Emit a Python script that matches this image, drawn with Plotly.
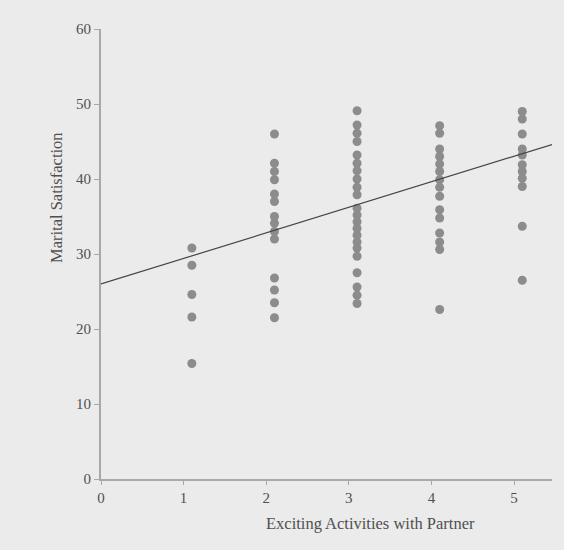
import plotly.graph_objects as go

# Exciting activities score (x positions of columns) and marital satisfaction values
col_x = [1.1, 2.1, 3.1, 4.1, 5.1]
sat_1 = [30.8, 28.5, 24.6, 21.6, 15.4]
sat_2 = [46.0, 42.1, 41.0, 39.9, 38.0, 37.0, 35.0, 34.1, 33.0, 32.0, 26.8, 25.2, 23.5, 21.5]
sat_3 = [49.1, 47.2, 46.1, 45.0, 43.2, 42.1, 41.1, 40.0, 38.9, 37.9, 36.1, 35.2, 34.3,
         33.4, 32.5, 31.6, 30.8, 29.7, 27.5, 25.6, 24.5, 23.4]
sat_4 = [47.1, 46.1, 44.0, 43.0, 42.0, 41.0, 39.9, 38.9, 37.7, 35.9, 34.8, 32.8, 31.6, 30.6, 22.6]
sat_5 = [49.0, 48.0, 46.0, 44.0, 43.2, 41.9, 41.0, 40.1, 39.0, 33.7, 26.5]

# Regression line endpoints
fit_x = [0.0, 5.46]
fit_y = [26.0, 44.6]

x_ticks = [0, 1, 2, 3, 4, 5]
y_ticks = [0, 10, 20, 30, 40, 50, 60]

groups = [sat_1, sat_2, sat_3, sat_4, sat_5]
xs, ys = [], []
for cx, vals in zip(col_x, groups):
    xs += [cx] * len(vals)
    ys += vals

bg = "#ebebeb"
serif = "Liberation Serif, Times New Roman, serif"
txt = "#505050"

fig = go.Figure()
fig.add_trace(go.Scatter(x=xs, y=ys, mode="markers",
                         marker=dict(size=9, color="#8c8c8c"),
                         showlegend=False, hoverinfo="skip"))
fig.add_trace(go.Scatter(x=fit_x, y=fit_y, mode="lines",
                         line=dict(color="#454545", width=1.2),
                         showlegend=False, hoverinfo="skip"))

fig.update_layout(
    width=564, height=550,
    margin=dict(l=101, r=12, t=29, b=71),
    paper_bgcolor=bg, plot_bgcolor=bg,
    font=dict(family=serif, size=13, color=txt),
    xaxis=dict(range=[0, 5.46], tickvals=x_ticks, showgrid=False, zeroline=False,
               showline=True, linecolor="#a8a8a8", linewidth=2,
               ticks="outside", ticklen=4, tickcolor="#a8a8a8", tickwidth=1,
               tickfont=dict(family=serif, size=15, color=txt)),
    yaxis=dict(range=[0, 60], tickvals=y_ticks, showgrid=False, zeroline=False,
               showline=True, linecolor="#a8a8a8", linewidth=2,
               ticks="outside", ticklen=5, tickcolor="#a8a8a8", tickwidth=1,
               tickfont=dict(family=serif, size=15, color=txt)),
    annotations=[
        dict(text="Exciting Activities with Partner", xref="paper", yref="paper",
             x=(370 - 101) / (552 - 101), y=-(523 - 479) / 450, xanchor="center", yanchor="middle",
             showarrow=False, font=dict(family=serif, size=16.5, color=txt)),
        dict(text="Marital Satisfaction", xref="paper", yref="paper",
             x=-(101 - 56) / 451, y=(479 - 198) / 450, xanchor="center", yanchor="middle",
             textangle=-90, showarrow=False,
             font=dict(family=serif, size=16.5, color=txt)),
    ],
)

fig.write_html("out.html", config={"displayModeBar": False},
               post_script="document.body.style.margin='0px';document.body.style.background='#ebebeb';")
